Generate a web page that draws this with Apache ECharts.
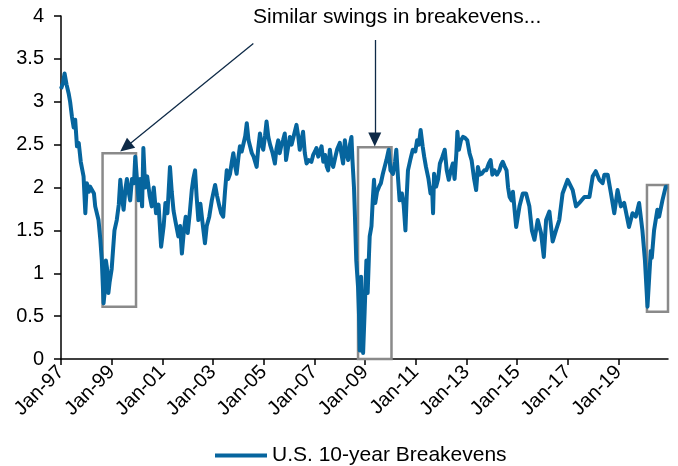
<!DOCTYPE html>
<html>
<head>
<meta charset="utf-8">
<script src="https://cdn.jsdelivr.net/npm/echarts@6/dist/echarts.min.js"></script>
<style>
  html, body { margin: 0; padding: 0; background: #fff; }
  #chart { width: 678px; height: 466px; }
</style>
</head>
<body>
<div id="chart"></div>
<script>
// ============ Data ============
// decimal dates (years)
const dates = [
  1997.00, 1997.08, 1997.14, 1997.22, 1997.30, 1997.36, 1997.43, 1997.50, 1997.56, 1997.63,
  1997.70, 1997.78, 1997.89, 1997.96, 1998.02, 1998.10, 1998.15, 1998.30, 1998.35, 1998.48,
  1998.55, 1998.61, 1998.68, 1998.73, 1998.77, 1998.82, 1998.87, 1998.92, 1999.00, 1999.06,
  1999.11, 1999.20, 1999.28, 1999.34, 1999.40, 1999.47, 1999.55, 1999.60, 1999.67, 1999.73,
  1999.80, 1999.88, 1999.93, 2000.06, 2000.12, 2000.20, 2000.25, 2000.32, 2000.40, 2000.50,
  2000.58, 2000.66, 2000.75, 2000.85, 2000.95, 2001.05, 2001.12, 2001.20, 2001.30, 2001.37,
  2001.44, 2001.52, 2001.63, 2001.70, 2001.77, 2001.85, 2001.92, 2002.00, 2002.08, 2002.16,
  2002.22, 2002.29, 2002.35, 2002.42, 2002.50, 2002.58, 2002.68, 2002.75, 2002.85, 2002.95,
  2003.02, 2003.08, 2003.16, 2003.25, 2003.32, 2003.40, 2003.47, 2003.54, 2003.60, 2003.67,
  2003.74, 2003.80, 2003.87, 2003.93, 2004.00, 2004.06, 2004.13, 2004.20, 2004.27, 2004.33,
  2004.40, 2004.46, 2004.53, 2004.60, 2004.72, 2004.78, 2004.85, 2004.92, 2004.98, 2005.05,
  2005.11, 2005.18, 2005.25, 2005.35, 2005.44, 2005.50, 2005.57, 2005.63, 2005.70, 2005.76,
  2005.83, 2005.88, 2005.95, 2006.03, 2006.10, 2006.20, 2006.29, 2006.36, 2006.42, 2006.49,
  2006.55, 2006.62, 2006.69, 2006.78, 2006.88, 2006.95, 2007.02, 2007.08, 2007.15, 2007.22,
  2007.28, 2007.35, 2007.42, 2007.48, 2007.54, 2007.61, 2007.67, 2007.74, 2007.82, 2007.90,
  2008.00, 2008.06, 2008.13, 2008.20, 2008.26, 2008.33, 2008.40, 2008.46, 2008.50, 2008.56,
  2008.59, 2008.65, 2008.72, 2008.76, 2008.79, 2008.84, 2008.88, 2008.92, 2008.98, 2009.05,
  2009.10, 2009.15, 2009.18, 2009.25, 2009.30, 2009.35, 2009.40, 2009.47, 2009.55, 2009.62,
  2009.70, 2009.77, 2009.84, 2009.93, 2010.00, 2010.10, 2010.18, 2010.23, 2010.30, 2010.36,
  2010.45, 2010.52, 2010.59, 2010.64, 2010.69, 2010.78, 2010.88, 2010.98, 2011.05, 2011.12,
  2011.19, 2011.27, 2011.33, 2011.40, 2011.50, 2011.58, 2011.64, 2011.68, 2011.72, 2011.80,
  2011.88, 2011.95, 2012.04, 2012.14, 2012.22, 2012.30, 2012.38, 2012.46, 2012.53, 2012.60,
  2012.64, 2012.70, 2012.78, 2012.86, 2012.94, 2013.03, 2013.12, 2013.20, 2013.30, 2013.38,
  2013.45, 2013.52, 2013.60, 2013.70, 2013.78, 2013.88, 2013.95, 2014.02, 2014.10, 2014.20,
  2014.30, 2014.36, 2014.43, 2014.50, 2014.58, 2014.64, 2014.70, 2014.78, 2014.83, 2014.96,
  2015.09, 2015.22, 2015.35, 2015.48, 2015.58, 2015.68, 2015.81, 2015.94, 2016.05, 2016.14,
  2016.27, 2016.40, 2016.53, 2016.66, 2016.79, 2016.99, 2017.19, 2017.32, 2017.45, 2017.65,
  2017.85, 2017.98, 2018.10, 2018.24, 2018.37, 2018.44, 2018.57, 2018.70, 2018.83, 2018.96,
  2019.09, 2019.22, 2019.41, 2019.55, 2019.68, 2019.81, 2019.94, 2020.04, 2020.14, 2020.21,
  2020.27, 2020.31, 2020.40, 2020.53, 2020.60, 2020.73, 2020.86, 2020.93
];
const breakevens = [
  3.15, 3.22, 3.33, 3.20, 3.10, 3.00, 2.83, 2.70, 2.79, 2.48,
  2.52, 2.30, 2.13, 1.70, 2.05, 1.95, 2.01, 1.93, 1.78, 1.62,
  1.40, 1.15, 0.65, 0.80, 1.15, 1.05, 0.77, 0.90, 1.05, 1.30,
  1.50, 1.62, 1.80, 2.09, 1.90, 1.74, 2.00, 2.10, 1.95, 1.85,
  2.10, 2.05, 2.36, 1.85, 2.10, 1.78, 2.46, 2.00, 2.13, 1.90,
  1.78, 2.00, 1.70, 1.80, 1.31, 1.55, 1.82, 1.70, 2.24, 1.95,
  1.73, 1.60, 1.43, 1.55, 1.23, 1.50, 1.66, 1.47, 1.70, 1.97,
  2.10, 2.20, 1.90, 1.62, 1.81, 1.60, 1.35, 1.55, 1.66, 1.85,
  1.95, 2.03, 1.90, 1.78, 1.70, 1.66, 1.95, 2.20, 2.10, 2.16,
  2.30, 2.40, 2.25, 2.16, 2.35, 2.48, 2.42, 2.44, 2.60, 2.75,
  2.55, 2.48, 2.40, 2.36, 2.24, 2.45, 2.63, 2.50, 2.44, 2.60,
  2.77, 2.59, 2.50, 2.40, 2.28, 2.45, 2.55, 2.40, 2.50, 2.55,
  2.63, 2.32, 2.45, 2.59, 2.50, 2.62, 2.73, 2.60, 2.44, 2.55,
  2.65, 2.40, 2.28, 2.32, 2.30, 2.38, 2.42, 2.46, 2.36, 2.42,
  2.48, 2.30, 2.38, 2.25, 2.20, 2.44, 2.30, 2.24, 2.35, 2.45,
  2.52, 2.40, 2.28, 2.55, 2.40, 2.32, 2.50, 2.59, 2.32, 2.00,
  1.74, 1.15, 0.84, 0.50, 0.10, 0.96, 0.40, 0.07, 0.55, 1.15,
  0.77, 1.20, 1.43, 1.55, 1.85, 2.09, 1.82, 1.95, 2.01, 2.05,
  2.16, 2.17, 2.32, 2.44, 2.20, 2.16, 2.30, 2.44, 2.10, 1.85,
  1.93, 1.80, 1.50, 1.90, 2.20, 2.32, 2.44, 2.42, 2.55, 2.50,
  2.67, 2.48, 2.36, 2.24, 2.10, 1.93, 2.00, 1.70, 2.16, 2.01,
  2.10, 2.28, 2.35, 2.44, 2.20, 2.09, 2.20, 2.28, 2.10, 2.40,
  2.65, 2.44, 2.55, 2.59, 2.58, 2.55, 2.40, 2.32, 2.10, 1.97,
  2.24, 2.15, 2.16, 2.20, 2.20, 2.28, 2.32, 2.15, 2.20, 2.15,
  2.20, 2.26, 2.30, 2.25, 2.20, 2.00, 1.89, 1.85, 1.95, 1.54,
  1.78, 1.93, 1.93, 1.78, 1.50, 1.39, 1.62, 1.47, 1.19, 1.62,
  1.72, 1.37, 1.50, 1.62, 1.93, 2.09, 1.97, 1.78, 1.82, 1.89,
  1.89, 2.13, 2.19, 2.09, 2.05, 2.15, 2.15, 1.93, 1.70, 1.97,
  1.78, 1.82, 1.54, 1.70, 1.66, 1.82, 1.50, 1.15, 0.61, 0.96,
  1.26, 1.18, 1.50, 1.74, 1.66, 1.85, 2.01, 2.01
];
const tickLabels = ['Jan-97', 'Jan-99', 'Jan-01', 'Jan-03', 'Jan-05', 'Jan-07',
  'Jan-09', 'Jan-11', 'Jan-13', 'Jan-15', 'Jan-17', 'Jan-19'];

// grey boxes: [startYear, top, endYear, bottom]
const boxes = [
  [1998.64, 2.40, 1999.96, 0.61],
  [2008.72, 2.47, 2010.04, 0.00],
  [2020.12, 2.03, 2020.95, 0.55]
];
// arrows: [fromYear, fromValue, toYear, toValue]
const arrows = [
  [2004.59, 3.68, 1999.55, 2.47],
  [2009.38, 3.72, 2009.38, 2.56]
];

// ============ Chart ============
const BASE = 1997;
const FONT = "'Liberation Sans', Arial, sans-serif";
const chart = echarts.init(document.getElementById('chart'));

chart.setOption({
  animation: false,
  textStyle: { fontFamily: FONT },
  grid: { left: 61, right: 10, top: 16, bottom: 107 },
  legend: {
    left: 210,
    top: 440,
    icon: 'rect',
    itemWidth: 52,
    itemHeight: 4,
    itemGap: 6,
    textStyle: { fontSize: 21, color: '#000', fontFamily: FONT },
    data: ['U.S. 10-year Breakevens']
  },
  graphic: [{
    type: 'text',
    left: 253,
    top: 7,
    style: {
      text: 'Similar swings in breakevens...',
      font: '21px ' + FONT,
      fill: '#000'
    }
  }],
  xAxis: {
    type: 'value',
    min: 0,
    max: 23.95,
    interval: 2,
    splitLine: { show: false },
    axisLine: { lineStyle: { color: '#000', width: 1.5 } },
    axisTick: {
      length: 6,
      lineStyle: { color: '#000', width: 1.5 },
      customValues: tickLabels.map((_, i) => i * 2)
    },
    axisLabel: {
      rotate: 45,
      margin: 10,
      fontSize: 20,
      color: '#000',
      fontFamily: FONT,
      customValues: tickLabels.map((_, i) => i * 2),
      formatter: v => tickLabels[Math.round(v / 2)] || ''
    }
  },
  yAxis: {
    type: 'value',
    min: 0,
    max: 4,
    interval: 0.5,
    splitLine: { show: false },
    axisLine: { show: true, lineStyle: { color: '#000', width: 1.5 } },
    axisTick: { show: true, length: 7, lineStyle: { color: '#000', width: 1.5 } },
    axisLabel: { margin: 17, fontSize: 20, color: '#000', fontFamily: FONT }
  },
  series: [{
    name: 'U.S. 10-year Breakevens',
    type: 'line',
    showSymbol: false,
    symbol: 'none',
    clip: false,
    data: dates.map((d, i) => [d - BASE, breakevens[i]]),
    itemStyle: { color: '#06659e' },
    lineStyle: { color: '#06659e', width: 4, join: 'round' },
    markArea: {
      silent: true,
      itemStyle: { color: 'rgba(0,0,0,0)', borderColor: '#8a8a8a', borderWidth: 2.5 },
      label: { show: false },
      data: boxes.map(b => [
        { coord: [b[0] - BASE, b[1]] },
        { coord: [b[2] - BASE, b[3]] }
      ])
    },
    markLine: {
      silent: true,
      symbol: ['none', 'triangle'],
      symbolSize: [13, 14],
      label: { show: false },
      lineStyle: { color: '#0e2a47', width: 1.3, type: 'solid' },
      itemStyle: { color: '#0e2a47' },
      data: arrows.map(a => [
        { coord: [a[0] - BASE, a[1]] },
        { coord: [a[2] - BASE, a[3]] }
      ])
    }
  }]
});
</script>
</body>
</html>
